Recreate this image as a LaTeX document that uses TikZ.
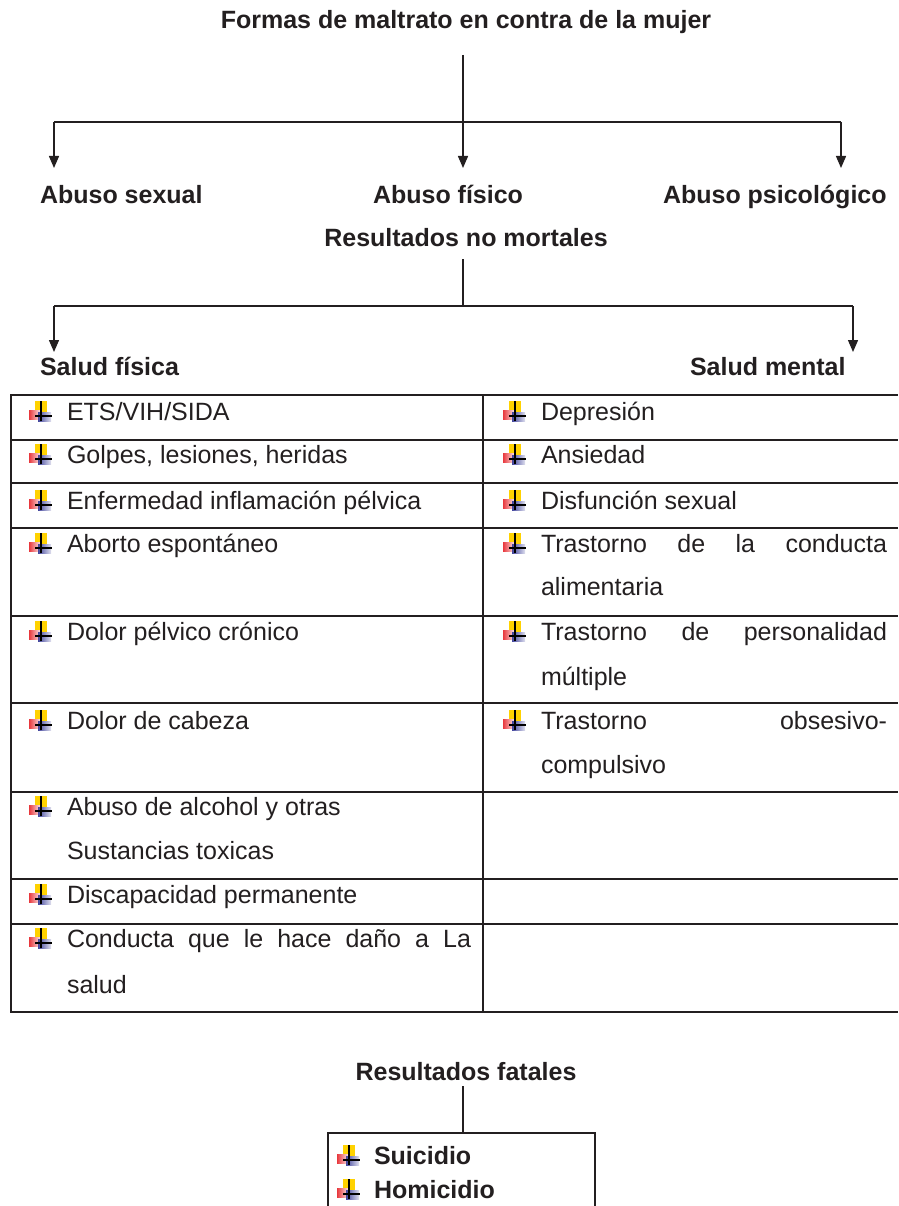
\documentclass[tikz,border=0pt]{standalone}
\usepackage{fontspec}
\setmainfont{Liberation Sans}
\usetikzlibrary{arrows.meta}
\definecolor{ink}{HTML}{231F20}
\definecolor{bulyel}{HTML}{FFD200}
\definecolor{bulred}{HTML}{E8383D}
\definecolor{bulblu}{HTML}{2E3192}
\tikzset{
  txt/.style={anchor=base west, inner sep=0pt, outer sep=0pt, text=ink, font=\fontsize{25}{30}\selectfont},
  head/.style={anchor=base, inner sep=0pt, outer sep=0pt, text=ink, font=\fontsize{25}{30}\selectfont\bfseries},
  headw/.style={head, anchor=base west},
  conn/.style={draw=ink, line width=1.4pt},
  arr/.style={conn, -{Triangle[length=12pt,width=10pt]}},
  gridline/.style={draw=ink, line width=2pt},
  bulletmark/.pic={
    \fill[bulyel] (6,-19) rectangle (18,-8);
    \shade[left color=bulred, right color=bulred!15] (0,-10) rectangle (11,-1);
    \shade[left color=bulblu!90, right color=bulblu!15] (9,-8) rectangle (22,1);
    \draw[black, line width=1.5pt] (12,-19) -- (12,1);
    \draw[black, line width=1.5pt] (6,-4) -- (23,-4);
  }
}
\begin{document}
\begin{tikzpicture}[x=1pt,y=-1pt]
\useasboundingbox (0,0) rectangle (898,1206);
\fill[white] (0,0) rectangle (898,1206);

% --- top tree
\node[head] (title) at (466,29) {Formas de maltrato en contra de la mujer};
\node[headw] (sex) at (40,204) {Abuso sexual};
\node[headw] (fis) at (373,204) {Abuso físico};
\node[headw] (psi) at (663,204) {Abuso psicológico};
\coordinate (t1) at (463,55);
\coordinate (t2) at (463,122);
\coordinate (tl) at (54,122);
\coordinate (tr) at (841,122);
\coordinate (asex) at (54,168);
\coordinate (afis) at (463,168);
\coordinate (apsi) at (841,168);
\draw[conn] (t1) -- (t2);
\draw[conn] (tl) -- (tr);
\draw[arr] (tl) -- (asex);
\draw[arr] (t2) -- (afis);
\draw[arr] (tr) -- (apsi);

% --- non fatal
\node[head] (nomort) at (466,247) {Resultados no mortales};
\node[headw] (sfis) at (40,375) {Salud física};
\node[headw] (smen) at (690,375) {Salud mental};
\coordinate (n1) at (463,259);
\coordinate (n2) at (463,306);
\coordinate (nl) at (54,306);
\coordinate (nr) at (853,306);
\coordinate (asf) at (54,352);
\coordinate (asm) at (853,352);
\draw[conn] (n1) -- (n2);
\draw[conn] (nl) -- (nr);
\draw[arr] (nl) -- (asf);
\draw[arr] (nr) -- (asm);

% --- table
\foreach \y in {395,440,483,528,616,703,792,879,924,1012}
  \draw[gridline] (10,\y) -- (898,\y);
\draw[gridline] (11,394) -- (11,1013);
\draw[gridline] (483,394) -- (483,1013);

% left column
\foreach \b in {420,463,509,552,640,729,815,903,947}
  \pic at (29,\b) {bulletmark};
\node[txt] (l1) at (67,420) {ETS/VIH/SIDA};
\node[txt] (l2) at (67,463) {Golpes, lesiones, heridas};
\node[txt] (l3) at (67,509) {Enfermedad inflamación pélvica};
\node[txt] (l4) at (67,552) {Aborto espontáneo};
\node[txt] (l5) at (67,640) {Dolor pélvico crónico};
\node[txt] (l6) at (67,729) {Dolor de cabeza};
\node[txt] (l7) at (67,815) {Abuso de alcohol y otras};
\node[txt] (l7b) at (67,859) {Sustancias toxicas};
\node[txt] (l8) at (67,903) {Discapacidad permanente};
\node[txt] (l9) at (67,947) {\makebox[404pt][s]{Conducta que le hace daño a La}};
\node[txt] (l9b) at (67,993) {salud};

% right column
\foreach \b in {420,463,509,552,640,729}
  \pic at (503,\b) {bulletmark};
\node[txt] (r1) at (541,420) {Depresión};
\node[txt] (r2) at (541,463) {Ansiedad};
\node[txt] (r3) at (541,509) {Disfunción sexual};
\node[txt] (r4) at (541,552) {\makebox[346pt][s]{Trastorno de la conducta}};
\node[txt] (r4b) at (541,595) {alimentaria};
\node[txt] (r5) at (541,640) {\makebox[346pt][s]{Trastorno de personalidad}};
\node[txt] (r5b) at (541,685) {múltiple};
\node[txt] (r6) at (541,729) {\makebox[346pt][s]{Trastorno obsesivo-}};
\node[txt] (r6b) at (541,773) {compulsivo};

% --- fatal
\node[head] (fatal) at (466,1080) {Resultados fatales};
\coordinate (f1) at (463,1086);
\coordinate (f2) at (463,1133);
\draw[conn] (f1) -- (f2);
\draw[conn] (328,1206) -- (328,1133) -- (595,1133) -- (595,1206);
\pic at (337,1164) {bulletmark};
\pic at (337,1198) {bulletmark};
\node[headw] (sui) at (374,1164) {Suicidio};
\node[headw] (hom) at (374,1198) {Homicidio};
\end{tikzpicture}
\end{document}
